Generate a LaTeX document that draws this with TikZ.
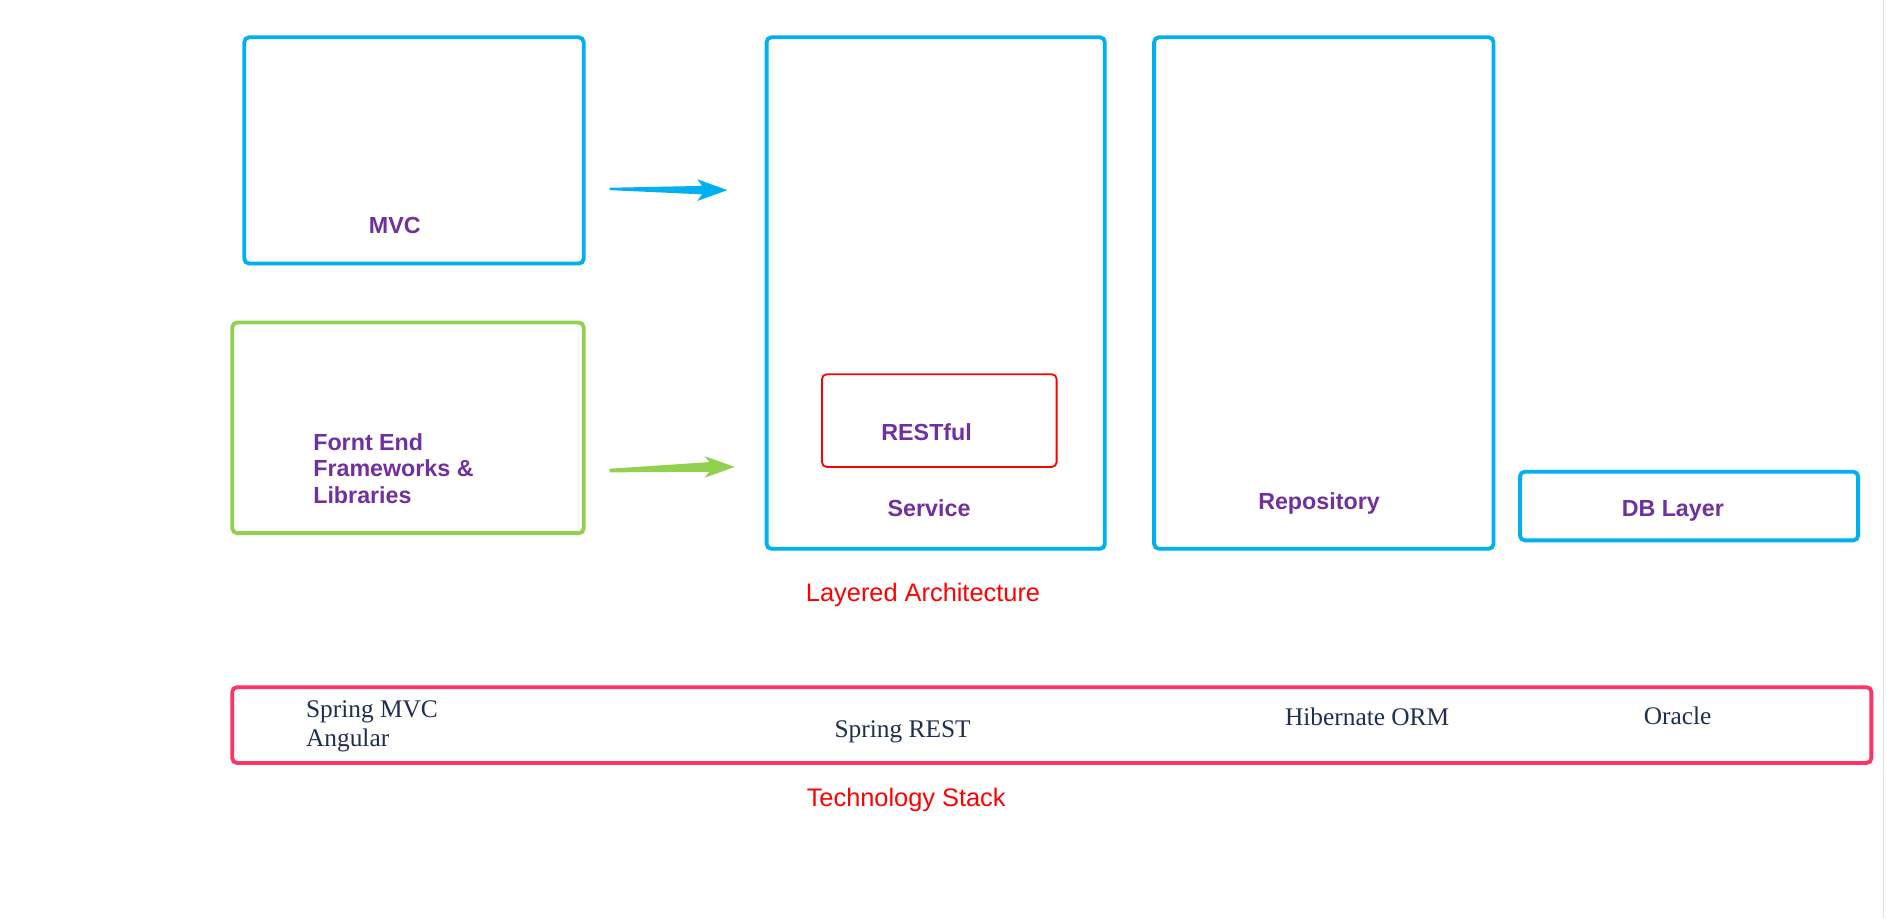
\documentclass[tikz,border=0pt]{standalone}
\usepackage{fontspec}
\setmainfont{Liberation Serif}
\setsansfont{Liberation Sans}
\usetikzlibrary{fit,calc,shadows}
\definecolor{cblue}{HTML}{00B0F0}
\definecolor{cgreen}{HTML}{92D050}
\definecolor{cpurple}{HTML}{7030A0}
\definecolor{cred}{HTML}{FF0000}
\definecolor{cpink}{HTML}{FF3366}
\definecolor{cnavy}{HTML}{1F2F50}
\begin{document}
\begin{tikzpicture}[x=0.02cm,y=-0.02cm,
  boxbase/.style={draw,inner sep=0pt,rounded corners=0.08cm,line width=1.8pt,fill=white,
     drop shadow={opacity=0.25,shadow xshift=0.6pt,shadow yshift=-0.8pt}},
  bluebox/.style={boxbase,draw=cblue},
  greenbox/.style={boxbase,draw=cgreen},
  pinkbox/.style={boxbase,draw=cpink},
  redbox/.style={draw=cred,inner sep=0pt,rounded corners=0.08cm,line width=0.85pt},
  lbl/.style={font=\sffamily\bfseries\fontsize{11}{12.5}\selectfont,text=cpurple,anchor=base,inner sep=0pt},
  captxt/.style={font=\sffamily\fontsize{12}{14}\selectfont,text=cred,anchor=base,inner sep=0pt},
  tech/.style={font=\rmfamily\fontsize{12}{13.6}\selectfont,text=cnavy,anchor=base,inner sep=0pt}]
\useasboundingbox (0,0) rectangle (1568,763);
\fill[white] (0,0) rectangle (1568,763);
\draw[black!12,line width=0.8pt] (1565,0) -- (1565,763);

% boxes
\node[bluebox,fit={(203,31) (485,219)}] (mvc) {};
\node[greenbox,fit={(193,268) (485,443)}] (fe) {};
\node[bluebox,fit={(637,31) (918,456)}] (service) {};
\node[bluebox,fit={(959,31) (1241,456)}] (repo) {};
\node[bluebox,fit={(1263,392) (1544,449)}] (db) {};
\node[redbox,fit={(683,311) (878,388)}] (rest) {};
\node[pinkbox,fit={(193,571) (1555,634)}] (stack) {};

% labels
\node[lbl] (tmvc) at (328,194) {MVC};
\node[lbl,anchor=base west,align=left] (tfe) at (260,418) {Fornt End\\Frameworks \&\\Libraries};
\node[lbl] (trest) at (770,366) {RESTful};
\node[lbl] (tservice) at (772,429) {Service};
\node[lbl] (trepo) at (1096,423) {Repository};
\node[lbl] (tdb) at (1390,429) {DB Layer};
\node[captxt] (tla) at (767,500) {Layered Architecture};
\node[captxt] (tts) at (753,670) {Technology Stack};

\node[tech,anchor=base west] (tsm) at (254,596) {Spring MVC};
\node[tech,anchor=base west] (tang) at (254,620) {Angular};
\node[tech] (tsr) at (750,613) {Spring REST};
\node[tech] (thib) at (1136,603) {Hibernate ORM};
\node[tech] (tora) at (1394,602) {Oracle};

% arrows
\coordinate (a1s) at ($(mvc.east |- 0,157)+(20,0)$);
\coordinate (a1e) at ($(service.west |- 0,158)+(-31,0)$);
\fill[cblue] ($(a1s)+(0,-1)$) -- ($(a1e)+(-21,-3.5)$) -- ($(a1e)+(-25,-9)$) -- (a1e)
   -- ($(a1e)+(-25,9)$) -- ($(a1e)+(-21,3.5)$) -- ($(a1s)+(0,1)$) -- cycle;
\coordinate (a2s) at ($(fe.east |- 0,391)+(20,0)$);
\coordinate (a2e) at ($(service.west |- 0,388)+(-25,0)$);
\fill[cgreen] ($(a2s)+(0,-1.5)$) -- ($(a2e)+(-21,-4)$) -- ($(a2e)+(-25,-9)$) -- (a2e)
   -- ($(a2e)+(-25,9)$) -- ($(a2e)+(-21,4)$) -- ($(a2s)+(0,1.5)$) -- cycle;
\end{tikzpicture}
\end{document}
